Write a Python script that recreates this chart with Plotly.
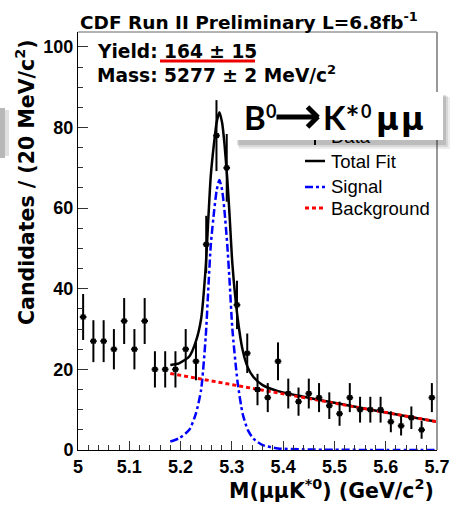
import plotly.graph_objects as go

# ---------------- data ----------------
bin_centers = [5.01, 5.03, 5.05, 5.07, 5.09, 5.11, 5.13, 5.15, 5.17, 5.19,
               5.21, 5.23, 5.25, 5.27, 5.29, 5.31, 5.33, 5.35, 5.37, 5.39,
               5.41, 5.43, 5.45, 5.47, 5.49, 5.51, 5.53, 5.55, 5.57, 5.59,
               5.61, 5.63, 5.65, 5.67, 5.69]
counts = [33, 27, 27, 25, 32, 25, 32, 20, 20, 20,
          25, 22, 51, 78, 70, 36, 24, 15, 13, 22,
          14, 12, 14, 13, 11, 9, 13, 10, 10, 10,
          7, 6, 8, 5, 13]
count_err = [5.7, 5.2, 5.2, 5.0, 5.7, 5.0, 5.7, 4.5, 4.5, 4.5,
             5.0, 4.7, 7.1, 8.8, 8.4, 6.0, 4.9, 3.9, 3.6, 4.7,
             3.7, 3.5, 3.7, 3.6, 3.3, 3.0, 3.6, 3.2, 3.2, 3.2,
             2.6, 2.4, 2.8, 2.2, 3.6]

fit_mass = [5.180, 5.197, 5.217, 5.230, 5.240, 5.249, 5.2545, 5.259, 5.2656, 5.2705,
            5.2757, 5.281, 5.2855, 5.291, 5.2955, 5.301, 5.311, 5.321, 5.331, 5.342,
            5.36, 5.39, 5.44, 5.50, 5.60, 5.70]
signal_curve = [2.1, 2.9, 5.0, 9.1, 14.9, 28.0, 41.0, 51.0, 59.5, 64.5,
                67.0, 64.5, 59.5, 51.0, 42.0, 30.0, 17.0, 9.0, 5.0, 2.8,
                1.2, 0.4, 0.15, 0.05, 0.02, 0.01]
total_curve = [21.1, 21.5, 23.2, 27.0, 32.5, 45.4, 58.3, 68.2, 76.5, 81.4,
               83.8, 81.2, 76.1, 67.4, 58.3, 46.2, 33.0, 24.8, 20.5, 18.1,
               16.1, 14.6, 13.2, 11.7, 9.3, 7.0]
bkg_mass = [5.18, 5.70]
bkg_curve = [19.0, 7.0]

x_ticks = [5.0, 5.1, 5.2, 5.3, 5.4, 5.5, 5.6, 5.7]
x_tick_labels = ["5", "5.1", "5.2", "5.3", "5.4", "5.5", "5.6", "5.7"]
y_ticks = [0, 20, 40, 60, 80, 100]
y_tick_labels = ["0", "20", "40", "60", "80", "100"]

# ---------------- layout helpers (pixel -> paper) ----------------
W, H = 453, 507
L, R, T, B = 78, 437, 32, 450


def px(x):
    return (x - L) / (R - L)


def py(y):
    return (B - y) / (B - T)


BOLD_DV = "DejaVu Sans"
ARIAL = "Liberation Sans"

fig = go.Figure()

fig.add_trace(go.Scatter(x=fit_mass, y=total_curve, mode="lines",
                         line=dict(color="black", width=2.5, shape="spline", smoothing=0.6),
                         hoverinfo="skip"))
fig.add_trace(go.Scatter(x=fit_mass, y=signal_curve, mode="lines",
                         line=dict(color="#0000ff", width=2.5, dash="8px,3px,3px,3px",
                                   shape="spline", smoothing=0.6),
                         hoverinfo="skip"))
fig.add_trace(go.Scatter(x=bkg_mass, y=bkg_curve, mode="lines",
                         line=dict(color="#ff0000", width=3, dash="4px,3px"),
                         hoverinfo="skip"))
fig.add_trace(go.Scatter(x=bin_centers, y=counts, mode="markers",
                         marker=dict(symbol="square", size=5, color="black"),
                         error_y=dict(type="data", array=count_err, thickness=2, width=0, color="black"),
                         error_x=dict(type="constant", value=0.0065, thickness=2, width=0, color="black")))

shapes = []
# frame top / right
shapes.append(dict(type="line", xref="paper", yref="paper", x0=0, x1=1, y0=1, y1=1,
                   line=dict(color="#666", width=1)))
shapes.append(dict(type="line", xref="paper", yref="paper", x0=1, x1=1, y0=0, y1=1,
                   line=dict(color="#999", width=2)))
# red underline
shapes.append(dict(type="line", xref="paper", yref="paper", x0=px(160), x1=px(255),
                   y0=py(61), y1=py(61), line=dict(color="#ee0000", width=3)))
# left edge grey blob
shapes.append(dict(type="rect", xref="paper", yref="paper", x0=px(0), x1=px(5),
                   y0=py(158), y1=py(108), line=dict(width=0), fillcolor="rgba(0,0,0,0.28)"))
shapes.append(dict(type="rect", xref="paper", yref="paper", x0=px(5), x1=px(9),
                   y0=py(156), y1=py(110), line=dict(width=0), fillcolor="rgba(0,0,0,0.12)"))
# legend samples
shapes.append(dict(type="line", xref="paper", yref="paper", x0=px(315), x1=px(315),
                   y0=py(145), y1=py(128), line=dict(color="black", width=2)))
shapes.append(dict(type="line", xref="paper", yref="paper", x0=px(305), x1=px(325),
                   y0=py(161), y1=py(161), line=dict(color="black", width=2.5)))
shapes.append(dict(type="line", xref="paper", yref="paper", x0=px(305), x1=px(325),
                   y0=py(187), y1=py(187), line=dict(color="#0000ff", width=2.5, dash="8px,3px,3px,3px")))
shapes.append(dict(type="line", xref="paper", yref="paper", x0=px(305), x1=px(325),
                   y0=py(208), y1=py(208), line=dict(color="#ff0000", width=3, dash="4px,3px")))

ann = []


def text(t, x, y, size, family, xanchor="left", yanchor="middle", angle=0, weight="bold"):
    ann.append(dict(text=t, x=px(x), y=py(y), xref="paper", yref="paper",
                    xanchor=xanchor, yanchor=yanchor, showarrow=False, textangle=angle,
                    font=dict(family=family, size=size, color="black", weight=weight)))


def box(x0, y0, x1, y1, color):
    ann.append(dict(text=" ", x=px(x0), y=py(y0), xref="paper", yref="paper",
                    xanchor="left", yanchor="top", showarrow=False,
                    width=x1 - x0, height=y1 - y0, borderpad=0, borderwidth=0,
                    bgcolor=color, font=dict(size=4)))


def stroke(x0, y0, x1, y1, w=5):
    ann.append(dict(text="", x=px(x1), y=py(y1), xref="paper", yref="paper",
                    ax=x0 - x1, ay=y0 - y1, axref="pixel", ayref="pixel",
                    showarrow=True, arrowhead=0, arrowwidth=w, arrowcolor="black"))


text("CDF Run II Preliminary L=6.8fb<sup>-1</sup>", 78, 21.5, 18.5, BOLD_DV)
text("Yield: 164 \u00b1 15", 95, 51.5, 18.6, BOLD_DV)
text("Mass: 5277 \u00b1 2 MeV/c<sup>2</sup>", 95, 73.5, 18.6, BOLD_DV)
text("Candidates / (20 MeV/c<sup>2</sup>)", 25, 182, 20.5, BOLD_DV, xanchor="center", angle=-90)
text("M(\u03bc\u03bcK<sup>*0</sup>) (GeV/c<sup>2</sup>)", 436, 489.5, 20.5, BOLD_DV, xanchor="right")

# legend texts
text("Data", 329, 136, 18.5, ARIAL, weight="normal")
text("Total Fit", 329, 161.5, 18.5, ARIAL, weight="normal")
text("Signal", 329, 186, 18.5, ARIAL, weight="normal")
text("Background", 329, 208, 18.5, ARIAL, weight="normal")

# label box with shadow
box(239, 97, 450, 149, "rgba(0,0,0,0.07)")
box(238, 96, 448, 147, "rgba(0,0,0,0.09)")
box(237, 95, 446, 145, "rgba(0,0,0,0.12)")
box(235, 92, 443, 140, "white")
text("B", 242, 117, 33, "Lato")
text("0", 264, 111.5, 18, "Lato")
stroke(275, 117, 317, 117)
stroke(306, 105.5, 318, 117.5)
stroke(306, 128.5, 318, 116.5)
text("K*", 321, 117, 33, "Lato")
text("0", 359, 111.5, 18, "Lato")
text("\u03bc", 374, 119, 31, BOLD_DV)
text("\u03bc", 399, 119, 31, BOLD_DV)

fig.update_layout(
    width=W, height=H, autosize=False,
    margin=dict(l=L, r=W - R, t=T, b=H - B, pad=0, autoexpand=False),
    paper_bgcolor="white", plot_bgcolor="white",
    showlegend=False,
    shapes=shapes, annotations=ann,
    xaxis=dict(range=[5.0, 5.7], tickmode="array", tickvals=x_ticks, ticktext=x_tick_labels,
               automargin=False,
               ticks="inside", ticklen=9, tickwidth=1, tickcolor="#333",
               showline=True, linecolor="black", linewidth=1, showgrid=False, zeroline=False,
               tickfont=dict(family=ARIAL, size=18, color="black", weight="bold"),
               minor=dict(ticks="inside", ticklen=5, dtick=0.02, tick0=5.0, tickcolor="#333",
                          tickwidth=1, showgrid=False)),
    yaxis=dict(range=[0, 103.7], tickmode="array", tickvals=y_ticks, ticktext=y_tick_labels,
               automargin=False,
               ticks="inside", ticklen=10, tickwidth=1, tickcolor="#333",
               showline=True, linecolor="black", linewidth=1, showgrid=False, zeroline=False,
               tickfont=dict(family=ARIAL, size=18, color="black", weight="bold"),
               minor=dict(ticks="inside", ticklen=5, dtick=5, tick0=0, tickcolor="#333",
                          tickwidth=1, showgrid=False)),
)

fig.write_html("out.html",
               config={"displayModeBar": False, "responsive": False},
               post_script="document.body.style.margin='0px';document.body.style.padding='0px';")
